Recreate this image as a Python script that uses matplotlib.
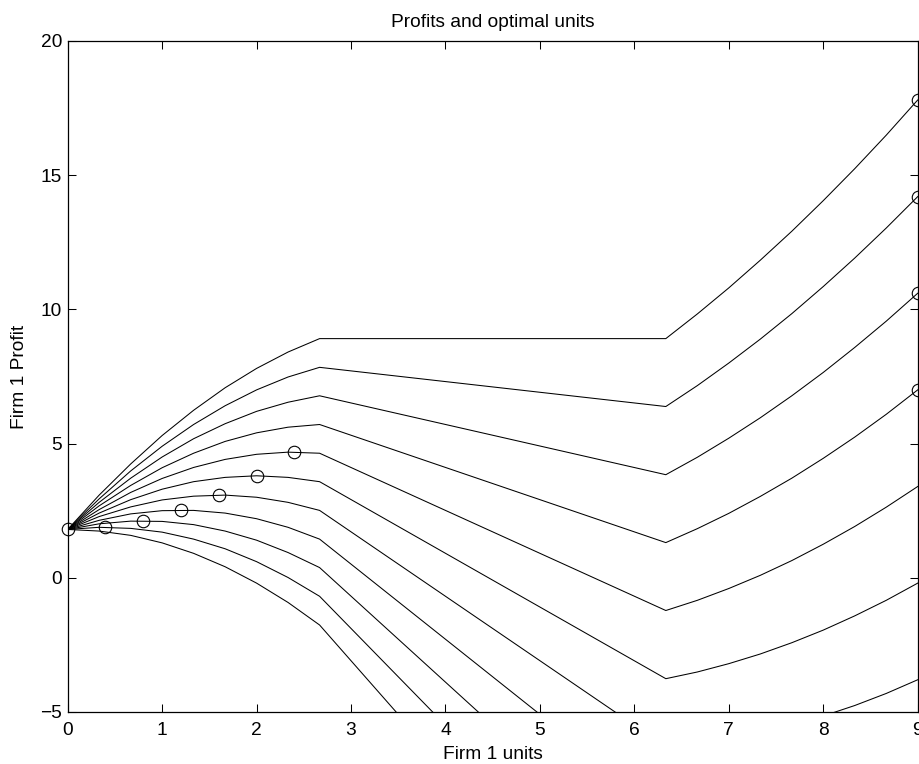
"""
Profits and optimal units - firm 1 profit curves for eleven rival-output levels
"""

import matplotlib
matplotlib.use('Agg')
import matplotlib.pyplot as plt

# ------------------------------------------------------------------
# Data
# ------------------------------------------------------------------
units = [0.0, 0.333, 0.667, 1.0, 1.333, 1.667, 2.0, 2.333, 2.667,
         6.333, 6.667, 7.0, 7.333, 7.667, 8.0, 8.333, 8.667, 9.0]

profit_00 = [1.80, 1.74, 1.58, 1.30, 0.91, 0.41, -0.20, -0.92, -1.76,
             -16.42, -16.84, -17.20, -17.51, -17.76, -17.95, -18.09, -18.17, -18.20]
profit_01 = [1.80, 1.88, 1.84, 1.70, 1.44, 1.08, 0.60, 0.01, -0.69,
             -13.89, -14.17, -14.40, -14.57, -14.69, -14.75, -14.76, -14.71, -14.60]
profit_02 = [1.80, 2.01, 2.11, 2.10, 1.98, 1.74, 1.40, 0.94, 0.38,
             -11.36, -11.51, -11.60, -11.64, -11.62, -11.55, -11.42, -11.24, -11.00]
profit_03 = [1.80, 2.14, 2.38, 2.50, 2.51, 2.41, 2.20, 1.88, 1.44,
             -8.82, -8.84, -8.80, -8.71, -8.56, -8.35, -8.09, -7.77, -7.40]
profit_04 = [1.80, 2.28, 2.64, 2.90, 3.04, 3.08, 3.00, 2.81, 2.51,
             -6.29, -6.17, -6.00, -5.77, -5.49, -5.15, -4.76, -4.31, -3.80]
profit_05 = [1.80, 2.41, 2.91, 3.30, 3.58, 3.74, 3.80, 3.74, 3.58,
             -3.76, -3.51, -3.20, -2.84, -2.42, -1.95, -1.42, -0.84, -0.20]
profit_06 = [1.80, 2.54, 3.18, 3.70, 4.11, 4.41, 4.60, 4.68, 4.64,
             -1.22, -0.84, -0.40, 0.09, 0.64, 1.25, 1.91, 2.63, 3.40]
profit_07 = [1.80, 2.68, 3.44, 4.10, 4.64, 5.08, 5.40, 5.61, 5.71,
             1.31, 1.83, 2.40, 3.03, 3.71, 4.45, 5.24, 6.09, 7.00]
profit_08 = [1.80, 2.81, 3.71, 4.50, 5.18, 5.74, 6.20, 6.54, 6.78,
             3.84, 4.49, 5.20, 5.96, 6.78, 7.65, 8.58, 9.56, 10.60]
profit_09 = [1.80, 2.94, 3.98, 4.90, 5.71, 6.41, 7.00, 7.48, 7.84,
             6.38, 7.16, 8.00, 8.89, 9.84, 10.85, 11.91, 13.03, 14.20]
profit_10 = [1.80, 3.08, 4.24, 5.30, 6.24, 7.08, 7.80, 8.41, 8.91,
             8.91, 9.83, 10.80, 11.83, 12.91, 14.05, 15.24, 16.49, 17.80]

profit_curves = [profit_00, profit_01, profit_02, profit_03, profit_04, profit_05,
                 profit_06, profit_07, profit_08, profit_09, profit_10]

# optimal units for each curve (circles)
opt_units = [0.0, 0.4, 0.8, 1.2, 1.6, 2.0, 2.4, 9.0, 9.0, 9.0, 9.0]
opt_profit = [1.80, 1.88, 2.12, 2.52, 3.08, 3.80, 4.68, 7.00, 10.60, 14.20, 17.80]

x_ticks = [0, 1, 2, 3, 4, 5, 6, 7, 8, 9]
y_ticks = [-5, 0, 5, 10, 15, 20]

# ------------------------------------------------------------------
# Plot
# ------------------------------------------------------------------
plt.rcParams['font.family'] = ['Liberation Sans', 'DejaVu Sans']
plt.rcParams['font.size'] = 13.8

fig = plt.figure(figsize=(9.2, 7.64), dpi=100)
ax = fig.add_axes([0.0736, 0.0681, 0.9239, 0.8783])

for curve in profit_curves:
    ax.plot(units, curve, color='black', linewidth=0.75)

ax.plot(opt_units, opt_profit, linestyle='none', marker='o', markersize=9,
        markerfacecolor='none', markeredgecolor='black', markeredgewidth=0.8,
        clip_on=False)

ax.set_xlim(0, 9)
ax.set_ylim(-5, 20)
ax.set_xticks(x_ticks)
ax.set_yticks(y_ticks)
ax.tick_params(direction='in', length=6, width=0.75, top=True, right=True)
ax.tick_params(axis='x', pad=7.5)
ax.tick_params(axis='y', pad=4)
for spine in ax.spines.values():
    spine.set_linewidth(0.9)

ax.set_title('Profits and optimal units', fontsize=13.8, pad=10.3)
ax.set_xlabel('Firm 1 units')
ax.set_ylabel('Firm 1 Profit')
ax.xaxis.set_label_coords(0.5, -0.0502)
ax.yaxis.set_label_coords(-0.0473, 0.5)

fig.savefig('out.png', dpi=100)
